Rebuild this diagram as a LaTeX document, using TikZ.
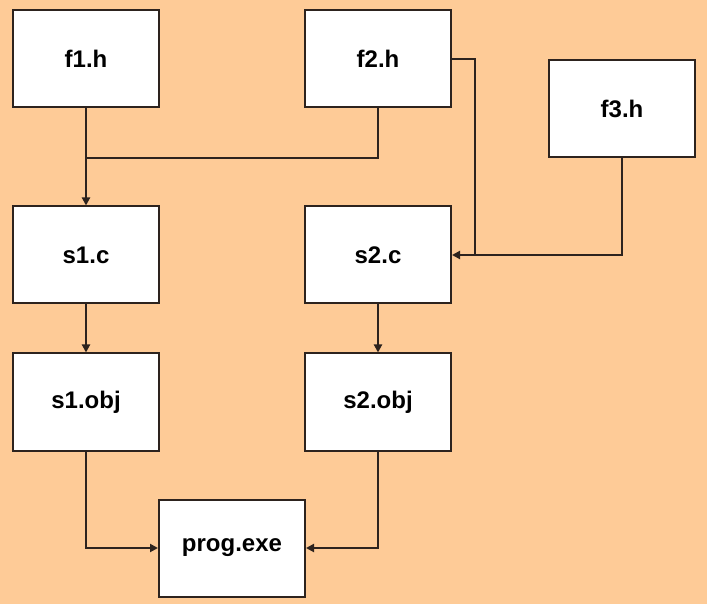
\documentclass[tikz,border=0pt]{standalone}
\usepackage{fontspec}
\setmainfont{Liberation Sans}
\usetikzlibrary{arrows.meta}
\definecolor{peach}{RGB}{254,203,151}
\definecolor{edge}{RGB}{45,35,30}

\begin{document}
\begin{tikzpicture}
          [x=0.5pt,y=-0.5pt,
           file/.style={draw=edge,line width=1pt,fill=white,minimum width=73pt,minimum height=48.5pt,inner sep=0pt,
                        font=\fontsize{12}{14}\selectfont\bfseries},
           link/.style={draw=edge,line width=1pt},
           arr/.style={link,-{Triangle[length=4pt,width=4pt]}}]

          \fill[peach] (0,0) rectangle (707,604);

          \node[file] (f1) at (86,59) {f1.h};
          \node[file] (f2) at (378,59) {f2.h};
          \node[file] (f3) at (622,109) {f3.h};
          \node[file] (s1) at (86,255) {s1.c};
          \node[file] (s2) at (378,255) {s2.c};
          \node[file] (o1) at (86,402) {s1.obj};
          \node[file] (o2) at (378,402) {s2.obj};
          \node[file] (prog) at (232,548) {prog.exe};

          \coordinate (j1) at (86,158);
          \coordinate (j2) at (475,255);

          \draw[arr] (f1) -- (s1);
          \draw[link] (f2) |- (j1);
          \draw[link] (f2.east) -| (j2);
          \draw[arr] (f3) |- (s2.east);
          \draw[arr] (s1) -- (o1);
          \draw[arr] (s2) -- (o2);
          \draw[arr] (o1) |- (prog.west);
          \draw[arr] (o2) |- (prog.east);
        \end{tikzpicture}
\end{document}
